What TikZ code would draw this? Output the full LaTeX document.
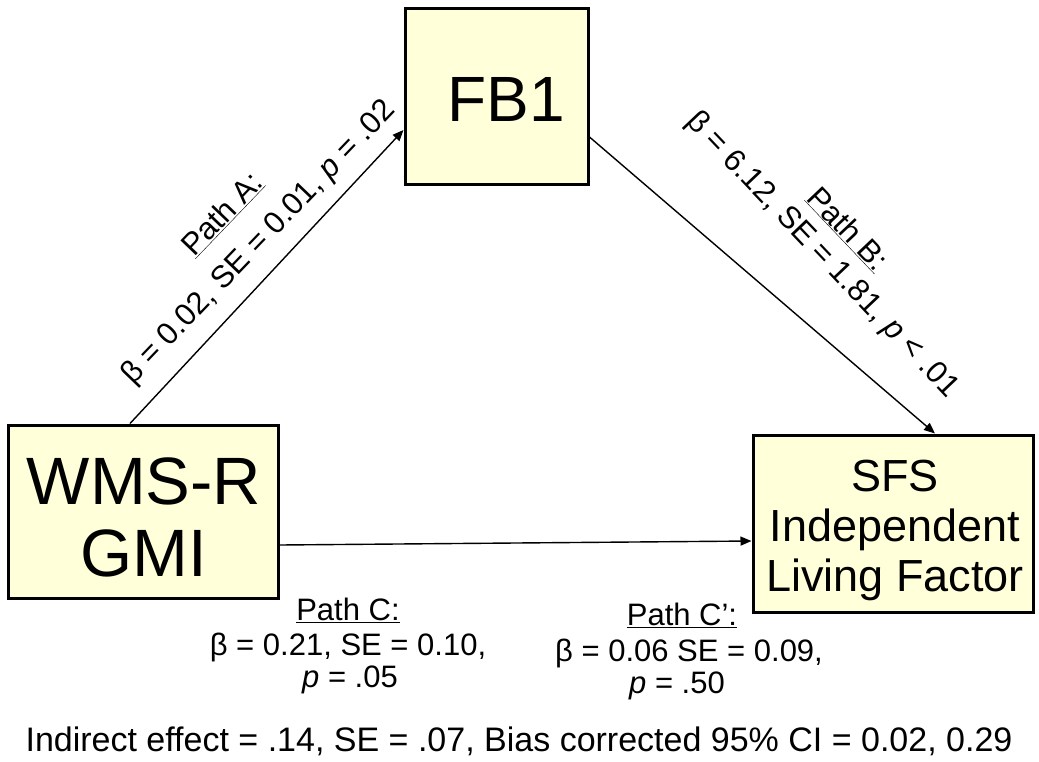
\documentclass[tikz,border=0pt]{standalone}
\usepackage{fontspec}
\setmainfont{Liberation Sans}
\usetikzlibrary{arrows.meta}
\definecolor{boxfill}{RGB}{255,255,217}
\tikzset{
  varbox/.style={draw=black, line width=3pt, fill=boxfill, inner sep=0pt},
  boxtext/.style={align=center, inner sep=0pt},
  link/.style={draw=black, line width=1.4pt, -{Triangle[length=11pt,width=9pt]}},
  lab/.style={font=\fontsize{31}{36}\selectfont, inner sep=0pt},
}
\begin{document}
\begin{tikzpicture}[x=1pt,y=-1pt]
\useasboundingbox[fill=white] (0,0) rectangle (1039,761);
% boxes
\node[varbox, minimum width=183pt, minimum height=176pt] (fb) at (496.5,96) {};
\node[boxtext, font=\fontsize{64}{70}\selectfont] (fbt) at ([xshift=10pt,yshift=-3pt]fb.center) {FB1};
\node[varbox, minimum width=270pt, minimum height=173pt] (wms) at (143,511.5) {};
\node[boxtext, font=\fontsize{67}{72}\selectfont] (wmst) at ([xshift=1pt,yshift=-6pt]wms.center) {WMS-R\\GMI};
\node[varbox, minimum width=280pt, minimum height=177pt] (sfs) at (893,523.5) {};
\node[boxtext, font=\fontsize{45}{50}\selectfont] (sfst) at ([xshift=2pt,yshift=-7pt]sfs.center) {SFS\\Independent\\Living Factor};
% connectors
\draw[link] ([xshift=-13pt]wms.north) -- ([yshift=-34pt]fb.west);
\draw[link] ([yshift=-41pt]fb.east) -- ([xshift=42pt]sfs.north);
\draw[link] ([yshift=-33.5pt]wms.east) -- ([yshift=-17.5pt]sfs.west);
% path labels
\node[lab, rotate=46.2] (pa1) at (222,214) {\underline{Path A:}};
\node[lab, rotate=46.2] (pa2) at (259,243) {β = 0.02, SE = 0.01, \textit{p} = .02};
\node[lab, rotate=-46.5] (pb1) at (848,229) {\underline{Path B:}};
\node[lab, rotate=-46.5] (pb2) at (822,255) {β = 6.12, SE = 1.81, \textit{p} < .01};
\node[lab, anchor=base] (pc1) at (348,620) {\underline{Path C:}};
\node[lab, anchor=base] (pc2) at (348,655) {β = 0.21, SE = 0.10,};
\node[lab, anchor=base] (pc3) at (350,687) {\textit{p} = .05};
\node[lab, anchor=base] (pd1) at (682,625) {\underline{Path C’:}};
\node[lab, anchor=base] (pd2) at (689,661) {β = 0.06 SE = 0.09,};
\node[lab, anchor=base] (pd3) at (677,693) {\textit{p} = .50};
\node[anchor=base, inner sep=0pt, font=\fontsize{34}{40}\selectfont] (ind) at (519,751) {Indirect effect = .14, SE = .07, Bias corrected 95\% CI = 0.02, 0.29};
\end{tikzpicture}
\end{document}
